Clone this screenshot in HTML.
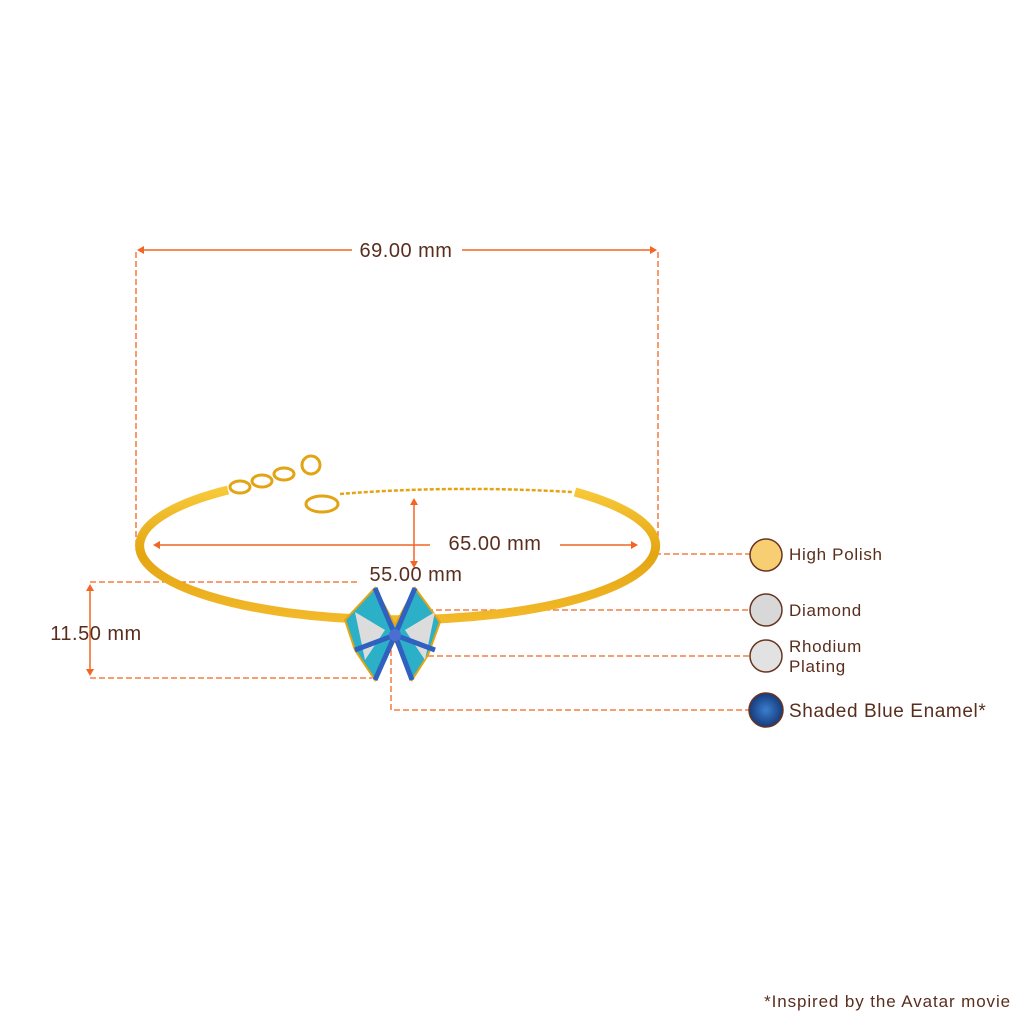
<!DOCTYPE html>
<html><head><style>
body{margin:0;background:#fff;}
svg{display:block;font-family:"Liberation Sans",sans-serif;}
</style></head><body>
<svg width="1024" height="1024" viewBox="0 0 1024 1024" xmlns="http://www.w3.org/2000/svg">
<defs>
<linearGradient id="gold" x1="0" y1="0" x2="0" y2="1">
<stop offset="0" stop-color="#f7c93a"/><stop offset="0.5" stop-color="#e4a512"/><stop offset="1" stop-color="#f2b92a"/></linearGradient>
<radialGradient id="blue" cx="0.5" cy="0.5" r="0.5"><stop offset="0" stop-color="#3a7fd0"/><stop offset="1" stop-color="#173a7a"/></radialGradient>
</defs>
<g fill="none" stroke="#f26522" stroke-width="1.3" stroke-dasharray="6,3">
<line x1="136" y1="252" x2="136" y2="550"/>
<line x1="658" y1="252" x2="658" y2="545"/>
<polyline points="90,582 360,582"/>
<polyline points="90,678 372,678"/>
<line x1="655" y1="554" x2="750" y2="554"/>
<line x1="418" y1="610" x2="750" y2="610"/>
<line x1="410" y1="656" x2="750" y2="656"/>
<polyline points="391,650 391,710 750,710"/>
</g>
<path d="M228,490 A258,74 0 1 0 575,492" fill="none" stroke="url(#gold)" stroke-width="9"/>
<g fill="none" stroke="#e3a414" stroke-width="3">
<ellipse cx="240" cy="487" rx="10" ry="6"/><ellipse cx="262" cy="481" rx="10" ry="6"/><ellipse cx="284" cy="474" rx="10" ry="6"/>
<circle cx="311" cy="465" r="9"/>
<ellipse cx="322" cy="504" rx="16" ry="8"/>
<path d="M340,494 Q450,485 572,492" stroke-width="2.5" stroke-dasharray="4,2"/>
</g>
<g>
<path d="M345,620 L375,588 L395,625 L415,588 L440,622 L428,655 L412,680 L395,640 L375,680 L355,650 Z" fill="#2bb0c8" stroke="#e4a512" stroke-width="2"/>
<path d="M355,612 L385,630 L365,660 Z M435,612 L405,630 L425,660 Z" fill="#dcdcdc"/>
<path d="M375,588 L395,635 L415,588 M355,650 L395,635 L435,650 M375,680 L395,635 L412,680" fill="none" stroke="#3060c0" stroke-width="5"/>
<circle cx="395" cy="635" r="6" fill="#4a6fd0"/>
</g>
<g stroke="#f26522" stroke-width="1.5" fill="#f26522">
<line x1="142" y1="250" x2="352" y2="250"/><line x1="462" y1="250" x2="652" y2="250"/>
<path d="M137,250 l7,-4 v8z M657,250 l-7,-4 v8z" stroke="none"/>
<line x1="158" y1="545" x2="430" y2="545"/><line x1="560" y1="545" x2="633" y2="545"/>
<path d="M153,545 l7,-4 v8z M638,545 l-7,-4 v8z" stroke="none"/>
<line x1="414" y1="503" x2="414" y2="565"/>
<path d="M414,498 l-4,7 h8z M414,568 l-4,-7 h8z" stroke="none"/>
<line x1="90" y1="588" x2="90" y2="672"/>
<path d="M90,584 l-4,7 h8z M90,676 l-4,-7 h8z" stroke="none"/>
</g>
<g fill="#5a2e1e" font-size="20" letter-spacing="0.5">
<text x="406" y="257" text-anchor="middle">69.00 mm</text>
<text x="495" y="550" text-anchor="middle">65.00 mm</text>
<text x="416" y="581" text-anchor="middle">55.00 mm</text>
<text x="96" y="640" text-anchor="middle">11.50 mm</text>
</g>
<g stroke="#6a3420" stroke-width="1.5">
<circle cx="766" cy="555" r="16" fill="#f7cf72"/>
<circle cx="766" cy="610" r="16" fill="#d8d8d8"/>
<circle cx="766" cy="656" r="16" fill="#e2e2e2"/>
<circle cx="766" cy="710" r="17" fill="url(#blue)"/>
</g>
<g fill="#5a2e1e" font-size="17" letter-spacing="0.7">
<text x="789" y="560">High Polish</text>
<text x="789" y="616">Diamond</text>
<text x="789" y="652">Rhodium</text>
<text x="789" y="672">Plating</text>
<text x="789" y="717" font-size="19" letter-spacing="0.6">Shaded Blue Enamel*</text>
<text x="1011" y="1007" text-anchor="end" letter-spacing="0.9">*Inspired by the Avatar movie</text>
</g>
</svg>
</body></html>
